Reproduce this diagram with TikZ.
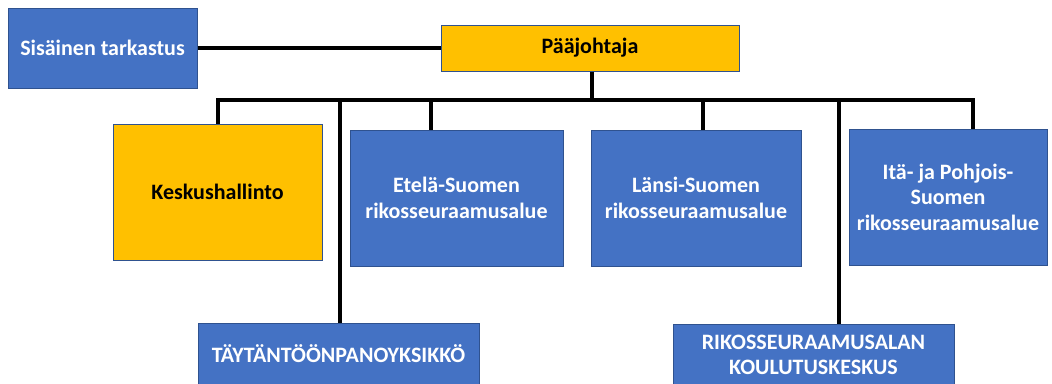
\documentclass[tikz,border=0pt]{standalone}
\usepackage{fontspec}
\setmainfont{Carlito}
\definecolor{boxblue}{HTML}{4472C4}
\definecolor{boxgold}{HTML}{FFC000}
\definecolor{boxline}{HTML}{2F528F}
\begin{document}
\begin{tikzpicture}[x=1pt,y=-1pt,
  box/.style={rectangle,draw=boxline,line width=1pt,inner sep=0pt,align=center,
    font=\fontsize{22}{25.5}\selectfont\bfseries},
  bluebox/.style={box,fill=boxblue,text=white},
  goldbox/.style={box,fill=boxgold,text=black},
  conn/.style={line width=3.6pt,black,line join=miter}]
\useasboundingbox (0,0) rectangle (1052,383);
\node[bluebox,minimum width=189pt,minimum height=80pt] (sis) at (102.5,48) {Sisäinen tarkastus};
\node[goldbox,minimum width=298pt,minimum height=46pt] (paa) at (590,48) {Pääjohtaja};
\node[goldbox,minimum width=209pt,minimum height=136pt] (kes) at (217.5,192) {Keskushallinto};
\node[bluebox,minimum width=213pt,minimum height=136pt] (ete) at (456.5,198) {Etelä-Suomen\\rikosseuraamusalue};
\node[bluebox,minimum width=210pt,minimum height=136pt] (lan) at (696,198) {Länsi-Suomen\\rikosseuraamusalue};
\node[bluebox,minimum width=198pt,minimum height=136pt] (ita) at (948,197) {Itä- ja Pohjois-\\Suomen\\rikosseuraamusalue};
\node[bluebox,minimum width=281pt,minimum height=62pt] (tay) at (338.5,354) {TÄYTÄNTÖÖNPANOYKSIKKÖ};
\node[bluebox,minimum width=281pt,minimum height=62pt] (rik) at (813.5,355) {RIKOSSEURAAMUSALAN\\KOULUTUSKESKUS};
\coordinate (bL) at (218,100);
\coordinate (bR) at (973,100);
\coordinate (bP) at (592,100);
\coordinate (dE) at (431,100);
\coordinate (dL) at (703,100);
\coordinate (dT) at (340,100);
\coordinate (dR) at (839,100);
\draw[conn] (sis.east) -- (paa.west);
\draw[conn] (paa.south -| bP) -- (bP);
\draw[conn] (bL |- kes.north) -- (bL) -- (bR) -- (bR |- ita.north);
\draw[conn] (dE) -- (dE |- ete.north);
\draw[conn] (dL) -- (dL |- lan.north);
\draw[conn] (dT) -- (dT |- tay.north);
\draw[conn] (dR) -- (dR |- rik.north);
\end{tikzpicture}
\end{document}
